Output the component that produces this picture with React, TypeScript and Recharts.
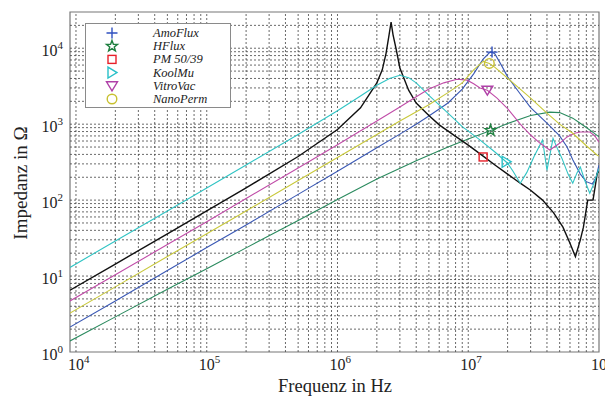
import { ComposedChart, Line, Scatter, XAxis, YAxis, ReferenceLine, ReferenceArea } from "recharts";

const FONT = '"Liberation Serif", "Times New Roman", serif';

type Pt = [number, number];

// Frequency (Hz), impedance (Ohm)
const AMOFLUX: Pt[] = [
  [9e3, 2.13], [2e4, 4.7], [5e4, 11.8], [1e5, 23.7], [2e5, 47], [5e5, 119], [1e6, 240],
  [2e6, 490], [3e6, 740], [4e6, 1000], [5e6, 1280], [7e6, 1900], [9e6, 2900], [1.1e7, 4600],
  [1.3e7, 7200], [1.45e7, 8700], [1.52e7, 8900], [1.6e7, 8400], [1.8e7, 5900], [2e7, 4200],
  [2.5e7, 2500], [3e7, 1650], [4e7, 1030], [5e7, 700], [5.7e7, 500], [6.3e7, 340], [7.2e7, 220],
  [8e7, 175], [8.9e7, 163], [9.5e7, 200], [1e8, 290],
];
const HFLUX: Pt[] = [
  [9e3, 1.4], [2e4, 2.9], [5e4, 6.7], [1e5, 12.5], [2e5, 23.5], [5e5, 54], [1e6, 102],
  [2e6, 190], [4e6, 330], [7e6, 500], [1e7, 640], [1.5e7, 830], [2e7, 1020], [3e7, 1300],
  [4.2e7, 1440], [5e7, 1420], [6.3e7, 1200], [7e7, 1060], [8.1e7, 890], [9e7, 780], [1e8, 680],
];
const PM5039: Pt[] = [
  [9e3, 6.5], [2e4, 14.4], [5e4, 36], [1e5, 72], [2e5, 145], [5e5, 375], [1e6, 850],
  [1.5e6, 1640], [2e6, 3500], [2.2e6, 5200], [2.35e6, 8500], [2.48e6, 15000], [2.57e6, 22000],
  [2.66e6, 15000], [2.8e6, 10000], [3e6, 5500], [3.5e6, 2800], [4e6, 1900], [5e6, 1300],
  [6e6, 980], [8e6, 690], [1e7, 530], [1.3e7, 380], [1.6e7, 290], [2e7, 220], [2.5e7, 167],
  [3e7, 135], [3.7e7, 100], [4.5e7, 68], [5.3e7, 44], [6e7, 27], [6.6e7, 18], [7.2e7, 30],
  [7.6e7, 44], [8.2e7, 100], [9e7, 100], [9.4e7, 160], [9.7e7, 226], [1e8, 240],
];
const KOOLMU: Pt[] = [
  [9e3, 13], [2e4, 29], [5e4, 72], [1e5, 144], [2e5, 290], [5e5, 730], [1e6, 1500],
  [1.5e6, 2350], [2e6, 3250], [2.5e6, 4000], [3e6, 4400], [3.5e6, 4100], [4e6, 3500],
  [5e6, 2400], [7e6, 1400], [9e6, 930], [1.2e7, 640], [1.6e7, 430], [2e7, 306], [2.2e7, 240],
  [2.5e7, 167], [2.8e7, 230], [3.2e7, 380], [3.7e7, 620], [4e7, 247], [4.45e7, 650],
  [4.8e7, 480], [5.2e7, 357], [5.8e7, 220], [6.3e7, 167], [6.8e7, 230], [7.2e7, 272],
  [7.8e7, 180], [8.5e7, 123], [9.2e7, 170], [9.7e7, 226], [1e8, 260],
];
const VITROVAC: Pt[] = [
  [9e3, 4.7], [2e4, 10.4], [5e4, 26], [1e5, 52], [2e5, 105], [5e5, 265], [1e6, 535],
  [2e6, 1100], [3e6, 1680], [4e6, 2300], [5e6, 2900], [6.5e6, 3500], [8.2e6, 3900],
  [9.8e6, 3800], [1.1e7, 3400], [1.23e7, 3000], [1.4e7, 2800], [1.66e7, 2200], [2e7, 1600],
  [2.5e7, 1000], [3e7, 720], [3.55e7, 560], [4.2e7, 457], [5e7, 560], [5.7e7, 680],
  [6.5e7, 760], [7.2e7, 790], [8.5e7, 790], [9.3e7, 700], [1e8, 580],
];
const NANOPERM: Pt[] = [
  [9e3, 3.26], [2e4, 7.2], [5e4, 18.1], [1e5, 36], [2e5, 72], [5e5, 181], [1e6, 365],
  [2e6, 730], [3e6, 1100], [5e6, 1800], [7e6, 2600], [9e6, 3500], [1.1e7, 5200], [1.3e7, 6700],
  [1.45e7, 6300], [1.6e7, 5600], [2.2e7, 3500], [3e7, 2200], [4e7, 1400], [5e7, 1000],
  [6.3e7, 760], [8e7, 520], [9.7e7, 390], [1e8, 380],
];

const X_TICKS = [1e4, 1e5, 1e6, 1e7, 1e8];
const Y_TICKS = [1, 10, 100, 1000, 10000];

type Series = {
  name: string;
  color: string;
  markerColor: string;
  marker: string;
  data: Pt[];
  at: Pt;
};

const SERIES: Series[] = [
  { name: "AmoFlux", color: "#3a58b4", markerColor: "#2f50c0", marker: "plus", data: AMOFLUX, at: [1.52e7, 8900] },
  { name: "HFlux", color: "#2a8a5e", markerColor: "#1f8040", marker: "star", data: HFLUX, at: [1.48e7, 830] },
  { name: "PM 50/39", color: "#111111", markerColor: "#e8202a", marker: "square", data: PM5039, at: [1.3e7, 370] },
  { name: "KoolMu", color: "#30c4c4", markerColor: "#28c0c8", marker: "tright", data: KOOLMU, at: [1.95e7, 320] },
  { name: "VitroVac", color: "#c04ca8", markerColor: "#b040a8", marker: "tdown", data: VITROVAC, at: [1.4e7, 2800] },
  { name: "NanoPerm", color: "#c8c83a", markerColor: "#c8c030", marker: "circle", data: NANOPERM, at: [1.45e7, 6300] },
];

const GRID_X: number[] = [];
for (let d = 1e4; d < 1e8; d *= 10) for (let m = 1; m <= 9; m++) if (d * m > 9e3) GRID_X.push(d * m);
const GRID_Y: number[] = [];
for (let d = 1; d < 3e4; d *= 10) for (let m = 1; m <= 9; m++) if (d * m > 1 && d * m < 3e4) GRID_Y.push(d * m);

function Marker({ cx, cy, kind, color }: { cx: number; cy: number; kind: string; color: string }) {
  const common = { stroke: color, strokeWidth: 1.4, fill: "none" };
  if (kind === "plus")
    return <path d={`M${cx - 5.5},${cy}H${cx + 5.5}M${cx},${cy - 5.5}V${cy + 5.5}`} {...common} />;
  if (kind === "square") return <rect x={cx - 4} y={cy - 4} width={8} height={8} {...common} />;
  if (kind === "tright")
    return <path d={`M${cx - 4},${cy - 5.5}L${cx + 5},${cy}L${cx - 4},${cy + 5.5}Z`} {...common} />;
  if (kind === "tdown")
    return <path d={`M${cx - 5.5},${cy - 4}L${cx + 5.5},${cy - 4}L${cx},${cy + 5}Z`} {...common} />;
  if (kind === "circle") return <circle cx={cx} cy={cy} r={4.8} {...common} />;
  // star
  const pts: string[] = [];
  for (let i = 0; i < 10; i++) {
    const r = i % 2 === 0 ? 5.8 : 2.4;
    const a = -Math.PI / 2 + (i * Math.PI) / 5;
    pts.push(`${(cx + r * Math.cos(a)).toFixed(2)},${(cy + r * Math.sin(a)).toFixed(2)}`);
  }
  return <polygon points={pts.join(" ")} {...common} />;
}

function XTick({ x, y, payload }: any) {
  const exp = Math.round(Math.log10(payload.value));
  return (
    <text y={y + 14} fontFamily={FONT} fontSize={16} fill="#222">
      <tspan x={x - 8}>10</tspan>
      <tspan dy={-7} fontSize={11}>{exp}</tspan>
    </text>
  );
}

function YTick({ x, y, payload }: any) {
  const exp = Math.round(Math.log10(payload.value));
  return (
    <text y={y + 8} fontFamily={FONT} fontSize={16} fill="#222" textAnchor="end">
      <tspan x={x - 3}>10</tspan>
      <tspan dy={-7} fontSize={11}>{exp}</tspan>
    </text>
  );
}

function YTitle() {
  return (
    <text transform="translate(27,183) rotate(-90)" textAnchor="middle" fontFamily={FONT} fontSize={19} fill="#222">
      Impedanz in Ω
    </text>
  );
}

function XTitle() {
  return (
    <text x={335} y={392} textAnchor="middle" fontFamily={FONT} fontSize={18.5} fill="#222">
      Frequenz in Hz
    </text>
  );
}

function LegendBox() {
  return (
    <div
      style={{
        position: "absolute",
        left: 85,
        top: 23,
        width: 146,
        height: 85,
        boxSizing: "border-box",
        border: "1px solid #8a8a8a",
        background: "#fff",
      }}
    >
      <svg width={144} height={83} style={{ display: "block" }}>
        {SERIES.map((s, i) => {
          const cy = 9 + i * 13.2;
          return (
            <g key={s.name}>
              <Marker cx={26} cy={cy} kind={s.marker} color={s.markerColor} />
              <text x={67} y={cy + 4} fontFamily={FONT} fontStyle="italic" fontSize={12.5} fill="#222">
                {s.name}
              </text>
            </g>
          );
        })}
      </svg>
    </div>
  );
}

export default function App() {
  return (
    <div style={{ position: "absolute", left: 0, top: 0, width: 605, height: 398, background: "#fff" }}>
      <ComposedChart width={605} height={398} margin={{ top: 12, right: 6, bottom: 0, left: 0 }}>
        <XAxis
          dataKey="f"
          type="number"
          scale="log"
          domain={[9e3, 1e8]}
          allowDataOverflow
          ticks={X_TICKS}
          tick={<XTick />}
          tickSize={0}
          tickMargin={4}
          axisLine={false}
          tickLine={false}
          height={46}
          interval={0}
          label={<XTitle />}
        />
        <YAxis
          dataKey="z"
          type="number"
          scale="log"
          domain={[1, 3e4]}
          allowDataOverflow
          ticks={Y_TICKS}
          tick={<YTick />}
          tickSize={0}
          tickMargin={4}
          axisLine={false}
          tickLine={false}
          width={70}
          interval={0}
          label={<YTitle />}
        />
        {GRID_X.map((v) => (
          <ReferenceLine key={`gx${v}`} x={v} stroke="#444" strokeWidth={0.8} strokeDasharray="2 2" />
        ))}
        {GRID_Y.map((v) => (
          <ReferenceLine key={`gy${v}`} y={v} stroke="#444" strokeWidth={0.8} strokeDasharray="2 2" />
        ))}
        <ReferenceArea x1={9e3} x2={1e8} y1={1} y2={3e4} fill="none" fillOpacity={0} stroke="#777" strokeWidth={1.2} />
        {SERIES.map((s) => (
          <Line
            key={s.name}
            data={s.data.map(([f, z]) => ({ f, z }))}
            dataKey="z"
            type="linear"
            stroke={s.color}
            strokeWidth={s.name === "PM 50/39" ? 1.4 : 1.1}
            dot={false}
            isAnimationActive={false}
          />
        ))}
        {SERIES.map((s) => (
          <Scatter
            key={`m${s.name}`}
            data={[{ f: s.at[0], z: s.at[1] }]}
            dataKey="z"
            isAnimationActive={false}
            shape={(p: any) => <Marker cx={p.cx} cy={p.cy} kind={s.marker} color={s.markerColor} />}
          />
        ))}
      </ComposedChart>
      <LegendBox />
    </div>
  );
}
